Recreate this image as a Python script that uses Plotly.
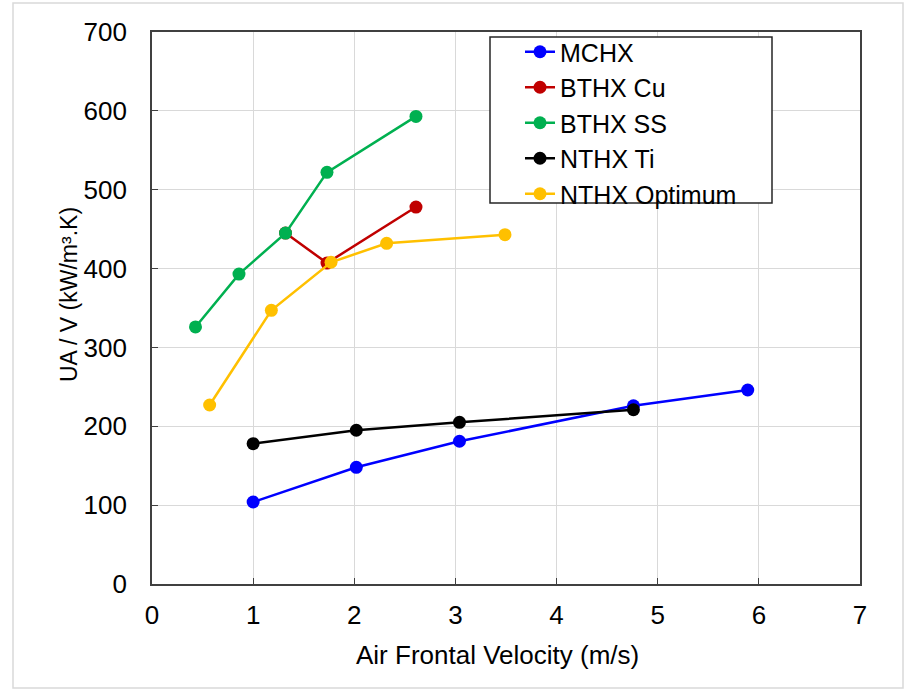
import plotly.graph_objects as go

mchx_x = [1.0, 2.02, 3.04, 4.76, 5.89]
mchx_y = [104, 148, 181, 226, 246]
bthx_cu_x = [1.32, 1.73, 2.61]
bthx_cu_y = [445, 407, 478]
bthx_ss_x = [0.43, 0.86, 1.32, 1.73, 2.61]
bthx_ss_y = [326, 393, 445, 522, 593]
nthx_ti_x = [1.0, 2.02, 3.04, 4.76]
nthx_ti_y = [178, 195, 205, 221]
nthx_opt_x = [0.57, 1.18, 1.77, 2.32, 3.49]
nthx_opt_y = [227, 347, 408, 432, 443]

series = [
    ("MCHX", mchx_x, mchx_y, "#0000FF"),
    ("BTHX Cu", bthx_cu_x, bthx_cu_y, "#C00000"),
    ("BTHX SS", bthx_ss_x, bthx_ss_y, "#00B050"),
    ("NTHX Ti", nthx_ti_x, nthx_ti_y, "#000000"),
    ("NTHX Optimum", nthx_opt_x, nthx_opt_y, "#FFC000"),
]

fig = go.Figure()
for i, (name, xs, ys, col) in enumerate(series):
    fig.add_trace(go.Scatter(
        x=xs, y=ys, name=name, mode="lines+markers",
        line=dict(color=col, width=2.5),
        marker=dict(color=col, size=13),
        legendgroup=f"g{i}",
    ))

# pixel -> paper helpers (plot area: x 152..860, y 32..584)
def px(x):
    return (x - 152) / 708.0

def py(y):
    return (584 - y) / 552.0

font = "Liberation Sans, Arial, sans-serif"
fig.update_layout(
    width=913, height=690,
    margin=dict(l=152, r=53, t=32, b=106),
    paper_bgcolor="white", plot_bgcolor="white",
    font=dict(family=font, size=26, color="black"),
    showlegend=True,
    legend=dict(
        x=px(520), y=py(29), xanchor="left", yanchor="top",
        borderwidth=0, bgcolor="rgba(0,0,0,0)",
        font=dict(family=font, size=25, color="black"),
        tracegroupgap=0,
    ),
    xaxis=dict(
        range=[0, 7], dtick=1, showgrid=True, gridcolor="#D9D9D9", gridwidth=1.2,
        zeroline=False, showline=True, linecolor="#404040", linewidth=1.8, mirror=True,
        ticks="inside", ticklen=6, tickcolor="#404040",
        ticklabelstandoff=7,
        tickfont=dict(size=26),
    ),
    yaxis=dict(
        range=[0, 700], dtick=100, showgrid=True, gridcolor="#D9D9D9", gridwidth=1.2,
        zeroline=False, showline=True, linecolor="#404040", linewidth=1.8, mirror=True,
        ticks="inside", ticklen=6, tickcolor="#404040",
        ticklabelstandoff=18,
        tickfont=dict(size=26),
    ),
    annotations=[
        dict(text="Air Frontal Velocity (m/s)", xref="paper", yref="paper",
             x=px(497), y=py(655), xanchor="center", yanchor="middle",
             showarrow=False, font=dict(size=26)),
        dict(text="UA / V (kW/m³.K)", xref="paper", yref="paper",
             x=px(69), y=py(295), xanchor="center", yanchor="middle",
             textangle=-90, showarrow=False, font=dict(size=23)),
    ],
    shapes=[
        dict(type="rect", xref="paper", yref="paper",
             x0=px(13), x1=px(903), y0=py(688), y1=py(3),
             line=dict(color="#D9D9D9", width=1.5), fillcolor="rgba(0,0,0,0)", layer="below"),
        dict(type="rect", xref="paper", yref="paper",
             x0=px(490), x1=px(772), y0=py(203), y1=py(37),
             line=dict(color="#262626", width=1.5), fillcolor="white", layer="above"),
    ],
)

fig.write_html("out.html")
